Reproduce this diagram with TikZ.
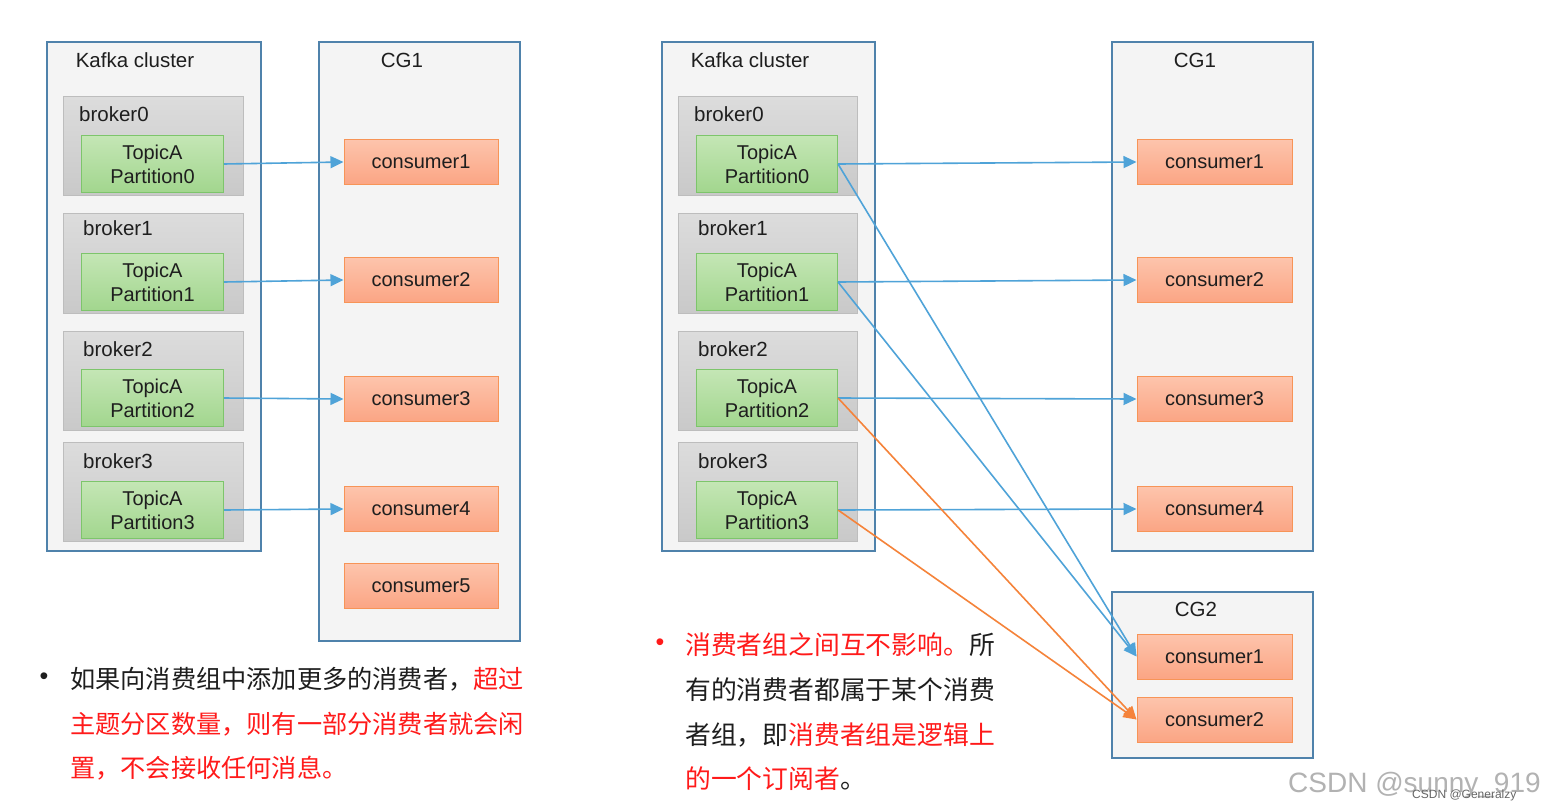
\documentclass[tikz,border=0pt]{standalone}
\usepackage{fontspec}
\setmainfont{Liberation Sans}
\newfontfamily\cjk{Noto Sans CJK SC}
\usetikzlibrary{arrows.meta}
\definecolor{boxblue}{HTML}{4F82AB}
\definecolor{clusterfill}{HTML}{F4F4F4}
\definecolor{brokertop}{HTML}{DCDCDC}
\definecolor{brokerbot}{HTML}{C9C9C9}
\definecolor{brokerline}{HTML}{BDBDBD}
\definecolor{greentop}{HTML}{C4E6B5}
\definecolor{greenbot}{HTML}{A2D68E}
\definecolor{greenline}{HTML}{7DC56B}
\definecolor{constop}{HTML}{FDC4AC}
\definecolor{consbot}{HTML}{FBA584}
\definecolor{consline}{HTML}{F79457}
\definecolor{arrowblue}{HTML}{4FA3D8}
\definecolor{arroworange}{HTML}{F5833A}
\definecolor{txtred}{HTML}{FF1A1A}
\definecolor{txtblack}{HTML}{1E1E1E}
\begin{document}
\begin{tikzpicture}[x=1pt,y=-1pt,
  cluster/.style={draw=boxblue, line width=1.6pt, fill=clusterfill, anchor=north west, inner sep=0pt},
  broker/.style={draw=brokerline, line width=1pt, top color=brokertop, bottom color=brokerbot, anchor=north west, inner sep=0pt, minimum height=99pt},
  part/.style={draw=greenline, line width=1pt, top color=greentop, bottom color=greenbot, anchor=north west, inner sep=0pt, minimum height=57pt, align=center, font=\fontsize{20}{24}\selectfont, text=txtblack},
  cons/.style={draw=consline, line width=1pt, top color=constop, bottom color=consbot, inner sep=0pt, minimum height=45pt, font=\fontsize{20}{24}\selectfont, text=txtblack},
  lbl/.style={font=\fontsize{20.5}{24}\selectfont, inner sep=0pt, text=txtblack},
  barrow/.style={draw=arrowblue, line width=1.6pt, -{Triangle[length=13pt,width=12pt]}},
  oarrow/.style={draw=arroworange, line width=1.6pt, -{Triangle[length=13pt,width=12pt]}},
  cjkl/.style={font=\cjk\fontsize{25.2}{30}\selectfont, inner sep=0pt, anchor=west, text=txtblack},
  cjkr/.style={font=\cjk\fontsize{25.8}{30}\selectfont, inner sep=0pt, anchor=west, text=txtblack}
]
\useasboundingbox (0,0) rectangle (1546,811);
\fill[white] (0,0) rectangle (1546,811);

% ---------------- Left panel ----------------
\node[cluster, minimum width=214pt, minimum height=509pt] (kl) at (46,41) {};
\node[lbl] (kllbl) at (135,60) {Kafka cluster};
\node[cluster, minimum width=201pt, minimum height=599pt] (cgl) at (318,41) {};
\node[lbl] (cgllbl) at (402,60) {CG1};

\node[broker, minimum width=180pt] (lb0) at (63,96) {};
\node[broker, minimum width=180pt, minimum height=100pt] (lb1) at (63,213) {};
\node[broker, minimum width=180pt] (lb2) at (63,331) {};
\node[broker, minimum width=180pt] (lb3) at (63,442) {};
\node[lbl, anchor=west] (lb0l) at (79,114) {broker0};
\node[lbl, anchor=west] (lb1l) at (83,228) {broker1};
\node[lbl, anchor=west] (lb2l) at (83,349) {broker2};
\node[lbl, anchor=west] (lb3l) at (83,461) {broker3};

\node[part, minimum width=142pt] (lp0) at (81,135) {TopicA\\Partition0};
\node[part, minimum width=142pt] (lp1) at (81,253) {TopicA\\Partition1};
\node[part, minimum width=142pt] (lp2) at (81,369) {TopicA\\Partition2};
\node[part, minimum width=142pt] (lp3) at (81,481) {TopicA\\Partition3};

\node[cons, minimum width=154pt] (lc1) at (421,162) {consumer1};
\node[cons, minimum width=154pt] (lc2) at (421,280) {consumer2};
\node[cons, minimum width=154pt] (lc3) at (421,399) {consumer3};
\node[cons, minimum width=154pt] (lc4) at (421,509) {consumer4};
\node[cons, minimum width=154pt] (lc5) at (421,586) {consumer5};

\draw[barrow] (lp0.east) -- (lc1.west);
\draw[barrow] (lp1.east) -- (lc2.west);
\draw[barrow] (lp2.east) -- (lc3.west);
\draw[barrow] (lp3.east) -- (lc4.west);

% ---------------- Right panel ----------------
\node[cluster, minimum width=213pt, minimum height=509pt] (kr) at (661,41) {};
\node[lbl] (krlbl) at (750,60) {Kafka cluster};
\node[cluster, minimum width=201pt, minimum height=509pt] (cgr) at (1111,41) {};
\node[lbl] (cgrlbl) at (1195,60) {CG1};
\node[cluster, minimum width=201pt, minimum height=166pt] (cg2) at (1111,591) {};
\node[lbl] (cg2lbl) at (1196,609) {CG2};

\node[broker, minimum width=179pt] (rb0) at (678,96) {};
\node[broker, minimum width=179pt, minimum height=100pt] (rb1) at (678,213) {};
\node[broker, minimum width=179pt] (rb2) at (678,331) {};
\node[broker, minimum width=179pt] (rb3) at (678,442) {};
\node[lbl, anchor=west] (rb0l) at (694,114) {broker0};
\node[lbl, anchor=west] (rb1l) at (698,228) {broker1};
\node[lbl, anchor=west] (rb2l) at (698,349) {broker2};
\node[lbl, anchor=west] (rb3l) at (698,461) {broker3};

\node[part, minimum width=141pt] (rp0) at (696,135) {TopicA\\Partition0};
\node[part, minimum width=141pt] (rp1) at (696,253) {TopicA\\Partition1};
\node[part, minimum width=141pt] (rp2) at (696,369) {TopicA\\Partition2};
\node[part, minimum width=141pt] (rp3) at (696,481) {TopicA\\Partition3};

\node[cons, minimum width=155pt] (rc1) at (1214.5,162) {consumer1};
\node[cons, minimum width=155pt] (rc2) at (1214.5,280) {consumer2};
\node[cons, minimum width=155pt] (rc3) at (1214.5,399) {consumer3};
\node[cons, minimum width=155pt] (rc4) at (1214.5,509) {consumer4};
\node[cons, minimum width=155pt] (gc1) at (1214.5,656.5) {consumer1};
\node[cons, minimum width=155pt] (gc2) at (1214.5,719.5) {consumer2};

\draw[barrow] (rp0.east) -- (rc1.west);
\draw[barrow] (rp1.east) -- (rc2.west);
\draw[barrow] (rp2.east) -- (rc3.west);
\draw[barrow] (rp3.east) -- (rc4.west);
\draw[barrow] (rp0.east) -- (gc1.west);
\draw[barrow] (rp1.east) -- (gc1.west);
\draw[oarrow] (rp2.east) -- (gc2.west);
\draw[oarrow] (rp3.east) -- (gc2.west);

% ---------------- Texts ----------------
\node[font=\fontsize{25}{30}\selectfont, inner sep=0pt, text=txtblack] (lbul) at (44,679) {•};
\node[cjkl] (lt1) at (70,679) {如果向消费组中添加更多的消费者，\textcolor{txtred}{超过}};
\node[cjkl, text=txtred] (lt2) at (70,724) {主题分区数量，则有一部分消费者就会闲};
\node[cjkl, text=txtred] (lt3) at (70,768) {置，不会接收任何消息。};

\node[font=\fontsize{25}{30}\selectfont, inner sep=0pt, text=txtred] (rbul) at (660,645) {•};
\node[cjkr] (rt1) at (685,645) {\textcolor{txtred}{消费者组之间互不影响。}所};
\node[cjkr] (rt2) at (685,690) {有的消费者都属于某个消费};
\node[cjkr] (rt3) at (685,735) {者组，即\textcolor{txtred}{消费者组是逻辑上}};
\node[cjkr] (rt4) at (685,779) {\textcolor{txtred}{的一个订阅者}。};

% ---------------- Watermark ----------------
\node[font=\fontsize{28}{32}\selectfont, inner sep=0pt, anchor=west, text=black!30] (wm1) at (1288,785) {CSDN @sunny\_919};
\node[font=\fontsize{12}{14}\selectfont, inner sep=0pt, anchor=west, text=black!60] (wm2) at (1412,795) {CSDN @Generalzy};
\end{tikzpicture}
\end{document}
